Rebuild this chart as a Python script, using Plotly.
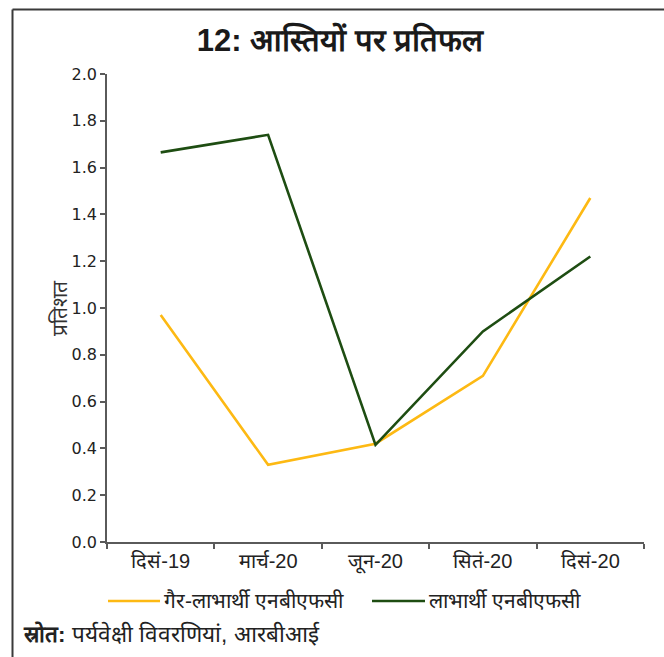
import plotly.graph_objects as go

# Quarterly return on assets (per cent)
quarters = ["दिसं-19", "मार्च-20", "जून-20", "सितं-20", "दिसं-20"]
non_beneficiary = [0.97, 0.33, 0.42, 0.71, 1.47]
beneficiary = [1.665, 1.74, 0.415, 0.90, 1.22]
series_names = ["गैर-लाभार्थी एनबीएफसी", "लाभार्थी एनबीएफसी"]
series_colors = ["#FDB913", "#1E4D12"]

y_ticks = [0.0, 0.2, 0.4, 0.6, 0.8, 1.0, 1.2, 1.4, 1.6, 1.8, 2.0]

title_text = "<b>12: आस्तियों पर प्रतिफल</b>"
y_title = "प्रतिशत"
source_text = "<b>स्रोत:</b> पर्यवेक्षी विवरणियां, आरबीआई"

W, H = 664, 657
L, R, T, B = 107, 20, 74, 115
pw, ph = W - L - R, H - T - B


def px_x(px):
    return (px - L) / pw


def px_y(py):
    return (H - B - py) / ph


axis_col = "#5a5a5a"
text_font = "Liberation Sans, Arial, sans-serif"

fig = go.Figure()
for name, vals, col in zip(series_names, [non_beneficiary, beneficiary], series_colors):
    fig.add_trace(go.Scatter(
        x=quarters, y=vals, name=name, mode="lines",
        line=dict(color=col, width=2.6), showlegend=False,
    ))

shapes = [
    # outer frame: top and left edges
    dict(type="line", xref="paper", yref="paper", x0=px_x(12.5), x1=px_x(W + 5),
         y0=px_y(9.5), y1=px_y(9.5), line=dict(color="#3a3a3a", width=2)),
    dict(type="line", xref="paper", yref="paper", x0=px_x(12.5), x1=px_x(12.5),
         y0=px_y(9.5), y1=px_y(H + 5), line=dict(color="#3a3a3a", width=2)),
]

annotations = [
    dict(text=y_title, xref="paper", yref="paper", x=px_x(45), y=px_y(308),
         showarrow=False, textangle=-90, font=dict(size=21, color="#333", family=text_font)),
    dict(text=source_text, xref="paper", yref="paper", x=px_x(21), y=px_y(634),
         xanchor="left", yanchor="middle", showarrow=False,
         font=dict(size=22.5, color="#222", family=text_font)),
]

# legend entries drawn along the bottom
legend_pos = [(108, 160, 162), (372, 425, 427)]
for (lx0, lx1, tx), name, col in zip(legend_pos, series_names, series_colors):
    shapes.append(dict(type="line", xref="paper", yref="paper", x0=px_x(lx0), x1=px_x(lx1),
                       y0=px_y(601), y1=px_y(601), line=dict(color=col, width=2.6)))
    annotations.append(dict(text=name, xref="paper", yref="paper", x=px_x(tx), y=px_y(600),
                            xanchor="left", yanchor="middle", showarrow=False,
                            font=dict(size=21, color="#222", family=text_font)))

fig.update_layout(
    width=W, height=H,
    margin=dict(l=L, r=R, t=T, b=B),
    paper_bgcolor="white", plot_bgcolor="white",
    title=dict(text=title_text, x=px_x(340), xref="paper", xanchor="center",
               y=1 - 40 / H, yref="container", yanchor="middle",
               font=dict(size=31, color="#1a1a1a", family=text_font)),
    shapes=shapes, annotations=annotations,
    xaxis=dict(
        type="category", showgrid=False, zeroline=False,
        showline=True, linecolor=axis_col, linewidth=1.5,
        ticks="outside", tickson="boundaries", ticklen=5, tickcolor=axis_col, tickwidth=1.5,
        tickfont=dict(size=20, color="#222", family=text_font),
        range=[-0.5, 4.5],
    ),
    yaxis=dict(
        range=[0, 2], tickvals=y_ticks, tickformat=".1f",
        showgrid=False, zeroline=False,
        showline=True, linecolor=axis_col, linewidth=1.5,
        ticks="outside", ticklen=5, tickcolor=axis_col, tickwidth=1.5,
        tickfont=dict(size=16, color="#222", family="DejaVu Sans, Verdana, sans-serif"),
    ),
)

fig.write_html("out.html")
